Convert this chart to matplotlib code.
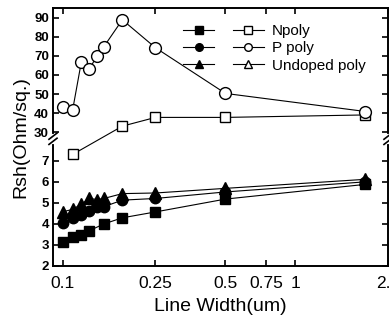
import numpy as np
import matplotlib
matplotlib.use("Agg")
import matplotlib.pyplot as plt
from matplotlib.lines import Line2D
from matplotlib.legend_handler import HandlerTuple
from matplotlib.ticker import FixedLocator, NullLocator, FixedFormatter

plt.rcParams["font.family"] = ["Liberation Sans", "DejaVu Sans"]

# ── data ────────────────────────────────────────────────────────────────────
x_all = [0.10, 0.11, 0.12, 0.13, 0.14, 0.15, 0.18, 0.25, 0.5, 2.0]

# filled symbols
x_npoly = [0.10, 0.11, 0.12, 0.13, 0.15, 0.18, 0.25, 0.5, 2.0]
y_npoly = [3.12, 3.40, 3.45, 3.68, 4.00, 4.29, 4.57, 5.18, 5.88]
y_ppoly = [4.04, 4.27, 4.43, 4.62, 4.82, 4.82, 5.13, 5.21, 5.52, 6.00]
y_undoped = [4.58, 4.69, 4.94, 5.21, 5.16, 5.21, 5.44, 5.47, 5.69, 6.12]

# open symbols
x_npoly_open = [0.11, 0.18, 0.25, 0.5, 2.0]
y_npoly_open = [7.3, 33.1, 37.7, 37.7, 39.0]
y_ppoly_open = [43.0, 41.5, 67.0, 63.0, 70.2, 74.9, 89.0, 74.3, 50.3, 40.8]

labels = ["Npoly", "P poly", "Undoped poly"]

x_ticks = [0.1, 0.25, 0.5, 0.75, 1.0, 2.5]
x_ticklabels = ["0.1", "0.25", "0.5", "0.75", "1", "2.5"]
y_ticks = [2, 3, 4, 5, 6, 7, 30, 40, 50, 60, 70, 80, 90]

# ── broken y axis as a piecewise-linear scale ───────────────────────────────
LO_BOT, LO_TOP = 2.0, 8.0
HI_BOT, HI_TOP = 27.0, 95.2
S_LO, S_HI, GAP = 21.2, 1.917, 2.0
P1 = (LO_TOP - LO_BOT) * S_LO


def fwd(y):
    y = np.asarray(y, dtype=float)
    lo = (y - LO_BOT) * S_LO
    mid = P1 + (y - LO_TOP) / (HI_BOT - LO_TOP) * GAP
    hi = P1 + GAP + (y - HI_BOT) * S_HI
    return np.where(y <= LO_TOP, lo, np.where(y >= HI_BOT, hi, mid))


def inv(p):
    p = np.asarray(p, dtype=float)
    lo = LO_BOT + p / S_LO
    mid = LO_TOP + (p - P1) / GAP * (HI_BOT - LO_TOP)
    hi = HI_BOT + (p - P1 - GAP) / S_HI
    return np.where(p <= P1, lo, np.where(p >= P1 + GAP, hi, mid))


fig = plt.figure(figsize=(3.89, 3.26), dpi=100)
ax = fig.add_axes([53 / 389, 60 / 326, 335 / 389, 258 / 326])
ax.set_xscale("log")
ax.set_yscale("function", functions=(fwd, inv))

lw = 0.8
ax.plot(x_npoly, y_npoly, color="k", lw=lw, marker="s", ms=6.5, mfc="k", zorder=3)
ax.plot(x_all, y_ppoly, color="k", lw=lw, marker="o", ms=7.5, mfc="k", zorder=3)
ax.plot(x_all, y_undoped, color="k", lw=lw, marker="^", ms=8.5, mfc="k", zorder=3)
ax.plot(x_npoly_open, y_npoly_open, color="k", lw=lw, marker="s", ms=6.5,
        mfc="white", mew=1.0, zorder=3)
ax.plot(x_all, y_ppoly_open, color="k", lw=lw, marker="o", ms=8.5,
        mfc="white", mew=1.0, zorder=3)

ax.set_xlim(0.0906, 2.5)
ax.set_ylim(LO_BOT, HI_TOP)

ax.xaxis.set_major_locator(FixedLocator(x_ticks))
ax.xaxis.set_major_formatter(FixedFormatter(x_ticklabels))
ax.xaxis.set_minor_locator(NullLocator())
ax.yaxis.set_major_locator(FixedLocator(y_ticks))
ax.yaxis.set_minor_locator(NullLocator())
ax.set_yticklabels([str(v) for v in y_ticks], fontweight="bold", fontsize=9.5)
for t in ax.get_xticklabels():
    t.set_fontsize(12.5)

ax.tick_params(axis="both", which="major", direction="in", length=4, width=1.2,
               top=True, right=True)
ax.tick_params(axis="x", pad=7)
ax.tick_params(axis="y", pad=3)
for s in ax.spines.values():
    s.set_linewidth(1.4)

ax.set_xlabel("Line Width(um)", fontsize=14, labelpad=5)
ax.set_ylabel("Rsh(Ohm/sq.)", fontsize=14, labelpad=3)

# break marks on both vertical spines
fb = (P1 + GAP / 2) / float(fwd(HI_TOP))
for xs in (0.0, 1.0):
    ax.plot([xs, xs], [fb - 0.012, fb + 0.012], transform=ax.transAxes,
            color="white", lw=3, clip_on=False, zorder=5)
    for dy in (-0.01, 0.01):
        ax.plot([xs - 0.012, xs + 0.012], [fb + dy - 0.012, fb + dy + 0.012],
                transform=ax.transAxes, color="k", lw=1.2, clip_on=False, zorder=6)

# legend: filled and open symbol for each doping type
h_fill = [Line2D([], [], color="k", lw=lw, marker=m, ms=5.5, mfc="k")
          for m in ("s", "o", "^")]
h_open = [Line2D([], [], color="k", lw=lw, marker=m, ms=5.5, mfc="white")
          for m in ("s", "o", "^")]
ax.legend([(a, b) for a, b in zip(h_fill, h_open)], labels,
          handler_map={tuple: HandlerTuple(ndivide=None, pad=1.2)},
          loc="upper left", bbox_to_anchor=(0.37, 0.96), frameon=False,
          fontsize=11, handlelength=5.3, handletextpad=0.5,
          labelspacing=0.2, borderaxespad=0)

fig.savefig("out.png", dpi=100)
